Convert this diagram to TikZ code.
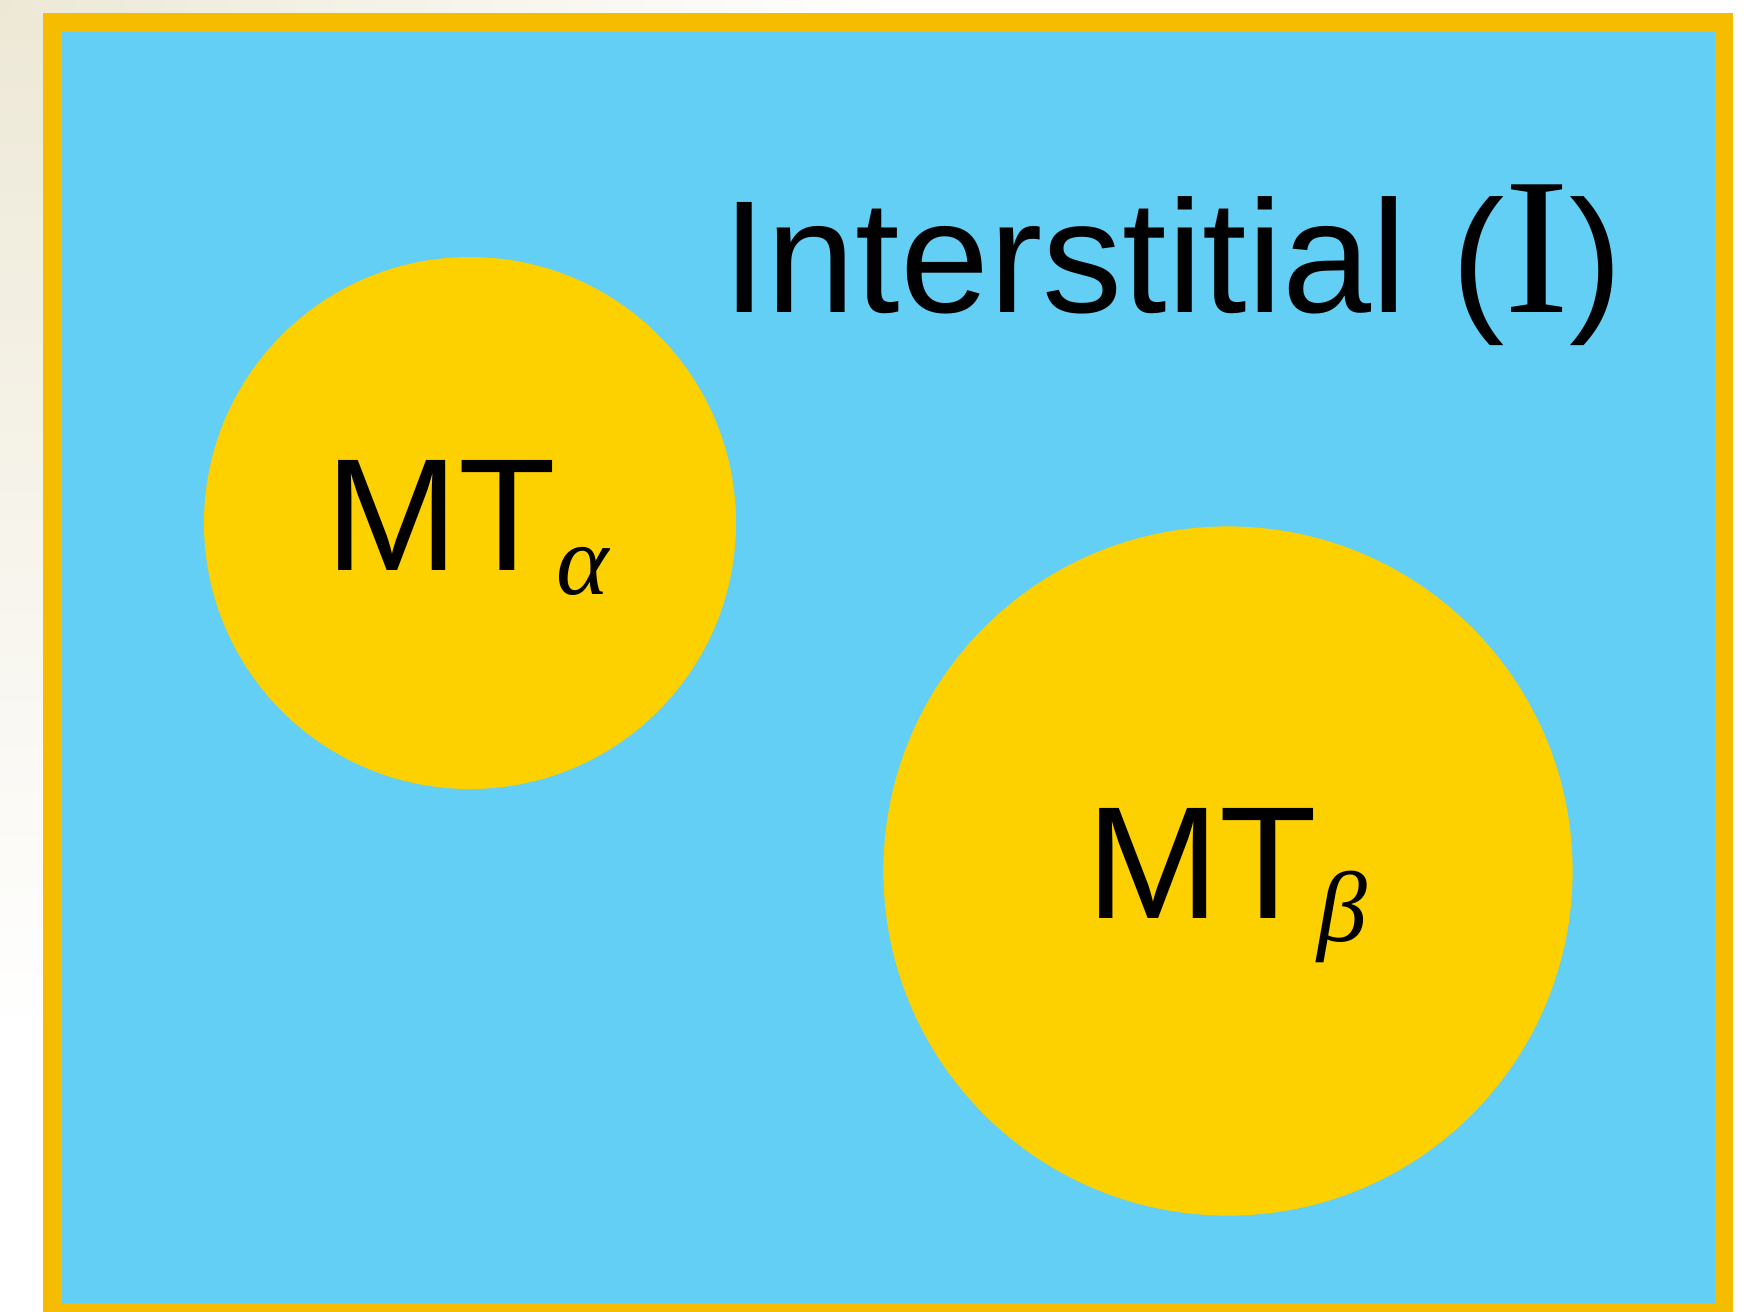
\documentclass[tikz,border=0pt]{standalone}
\usepackage{fontspec}
\setmainfont{Liberation Sans}
\newfontfamily\serifnum{Liberation Serif}
\definecolor{frameorange}{HTML}{F6BC00}
\definecolor{discyellow}{HTML}{FDD000}
\definecolor{fieldblue}{HTML}{63CFF5}
\definecolor{paperbeige}{HTML}{EDE8D6}
\tikzset{
  disc/.style={circle, fill=discyellow, draw=none, inner sep=0pt},
  biglabel/.style={inner sep=0pt, anchor=base west, font=\fontsize{80}{80}\selectfont},
}
\begin{document}
\begin{tikzpicture}[x=0.5pt, y=-0.5pt]
\useasboundingbox (0,0) rectangle (1746,1312);
\fill[white] (0,0) rectangle (1746,1312);
% faint background outside the frame
\shade[top color=paperbeige, bottom color=white] (0,0) rectangle (43,1040);
\shade[left color=paperbeige, right color=white] (0,0) rectangle (900,13);
% frame and field
\fill[frameorange] (43,13) rectangle (1733,1312);
\fill[fieldblue] (62,32) rectangle (1715,1303);
% discs
\node[disc, minimum size=266pt] (alpha) at (470,523) {};
\node[disc, minimum size=344.6pt] (beta) at (1228,871) {};
% labels
\node[biglabel] (inter) at (722,312) {Interstitial (\raisebox{0pt}{\serifnum\fontsize{97.5}{97.5}\selectfont I})};
\node[biglabel] (mta) at (325,570) {MT\raisebox{-12pt}{\serifnum\itshape\fontsize{50}{50}\selectfont α}};
\node[biglabel] (mtb) at (1086,918.6) {MT\raisebox{-11.5pt}{\serifnum\itshape\fontsize{50}{50}\selectfont β}};
\end{tikzpicture}
\end{document}
